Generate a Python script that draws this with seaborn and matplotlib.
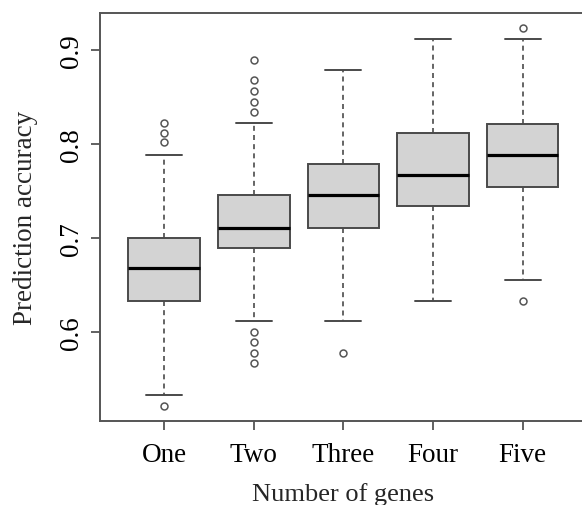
import numpy as np
import pandas as pd
import matplotlib
matplotlib.use("Agg")
import matplotlib.pyplot as plt
import seaborn as sns

# summary
groups = ["One", "Two", "Three", "Four", "Five"]
q1 = [0.633, 0.690, 0.711, 0.734, 0.755]
med = [0.668, 0.711, 0.746, 0.767, 0.789]
q3 = [0.700, 0.746, 0.779, 0.812, 0.822]
lo_whisker = [0.533, 0.612, 0.612, 0.633, 0.656]
hi_whisker = [0.789, 0.823, 0.879, 0.912, 0.912]
outliers_lo = [[0.522], [0.600, 0.590, 0.578, 0.567], [0.578], [], [0.633]]
outliers_hi = [[0.802, 0.812, 0.823], [0.834, 0.845, 0.857, 0.868, 0.890], [], [], [0.924]]

# rebuild a sample per group whose quartiles / whiskers / outliers match the summary
N = 200
rows = []
for i, g in enumerate(groups):
    vals = (outliers_lo[i] + [lo_whisker[i]] + [q1[i]] * N + [med[i]] * N
            + [q3[i]] * N + [hi_whisker[i]] + outliers_hi[i])
    rows += [(g, v) for v in vals]
df = pd.DataFrame(rows, columns=["genes", "accuracy"])

sns.set_style("white")
plt.rcParams["font.family"] = ["Liberation Serif", "DejaVu Serif"]

edge = "#4a4a4a"
fig = plt.figure(figsize=(5.82, 5.06), dpi=100)
ax = fig.add_axes([0.1718, 0.1666, 0.8339, 0.8057])

sns.boxplot(
    data=df, x="genes", y="accuracy", order=groups, ax=ax,
    color="#D3D3D3", saturation=1, width=0.8, whis=1.5,
    linecolor=edge, linewidth=1.4,
    medianprops=dict(color="black", linewidth=2.3),
    whiskerprops=dict(color=edge, linewidth=1.2, linestyle=(0, (3, 2.5))),
    capprops=dict(color=edge, linewidth=1.4),
    flierprops=dict(marker="o", markersize=5, markerfacecolor="none",
                    markeredgecolor="#555555", markeredgewidth=1.1),
)

ax.set_xlim(-0.716, 4.7)
ax.set_ylim(0.506, 0.9397)
ax.set_yticks([0.6, 0.7, 0.8, 0.9])
ax.set_yticklabels(["0.6", "0.7", "0.8", "0.9"], rotation=90, va="center")

for side in ["left", "top", "bottom", "right"]:
    ax.spines[side].set_color("#555555")
    ax.spines[side].set_linewidth(1.4)

ax.tick_params(axis="both", colors="#555555", labelcolor="black", labelsize=19.5,
               direction="out", width=1.3, length=6.5)
ax.tick_params(axis="x", pad=8.5, bottom=True)
ax.tick_params(axis="y", pad=5, left=True)

ax.set_xlabel("Number of genes", fontsize=19, labelpad=11)
ax.set_ylabel("Prediction accuracy", fontsize=19.5, labelpad=15)

fig.savefig("out.png", dpi=100)
